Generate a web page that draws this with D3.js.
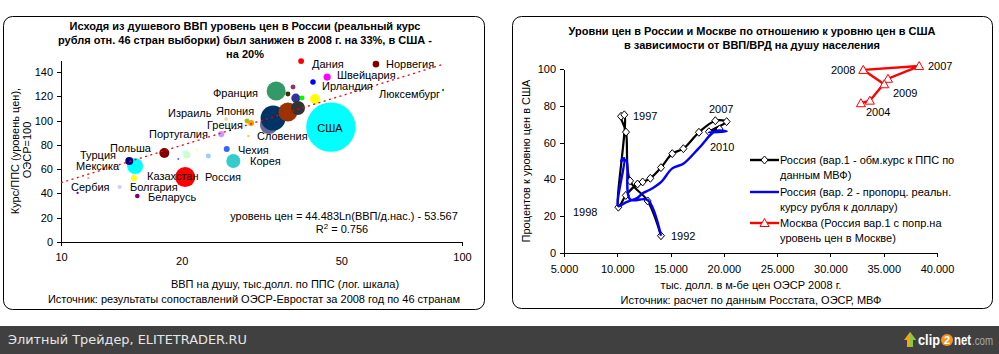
<!DOCTYPE html>
<html lang="ru">
<head>
<meta charset="UTF-8">
<title>Уровни цен</title>
<style>
  body { margin: 0; background: #fff; }
  text { font-family: "Liberation Sans", Arial, sans-serif; font-size: 11px; fill: #000; }
  .axis path, .axis line { stroke: #000; shape-rendering: crispEdges; }
  .axis text { font-family: "Liberation Sans", Arial, sans-serif; font-size: 11px; }
</style>
</head>
<body>
<svg id="cont" width="999" height="354"></svg>
<script src="https://cdn.jsdelivr.net/npm/d3@7"></script>
<script>
// ---- left chart: countries (GDP per capita PPP, price level OECD=100, GDP bn)
let countries = ["Италия","Япония","Франция","Германия","Бельгия","Канада","Австрия","Нидерланды","Исландия",
  "Австралия","Ирландия","Швейцария","Дания","Норвегия","Люксембург","Испания","Израиль","Словения","Греция",
  "Португалия","США","Корея","Чехия","Словакия","Эстония","Венгрия","Хорватия","Россия","Казахстан","Польша",
  "Мексика","Турция","Болгария","Беларусь","Сербия","Македония","Албания"];
let gdpPerCap = [33.0,33.8,34.4,36.8,38.5,39.0,36.8,39.9,37.9,
  43.0,42.5,46.1,39.7,61.0,89.7,29.1,29.8,29.3,25.8,
  25.1,47.1,26.9,25.9,23.3,21.8,20.4,20.6,20.4,19.6,18.1,
  15.3,14.8,15.2,15.5,14.0,11.7,11.0];
let priceLevel = [96.4,102.1,124.4,107.1,118.6,110.4,121.9,118.6,127.7,
  117.8,131.8,135.9,149.1,146.6,125.2,99.7,98.0,87.3,101.3,
  89.0,94.7,66.7,76.6,70.8,75.8,73.3,71.7,53.5,68.4,73.3,
  62.6,66.7,52.7,37.9,45.3,52.7,40.4];
let gdpTotal = [1900,3660,2120,2120,475,1150,145,145,145,
  585,175,300,200,250,30,145,210,30,75,
  230,14300,1150,210,145,20,210,290,2350,8,585,
  1500,375,210,125,95,30,30];
let bubbleColors = ["#666699","#003366","#339966","#993300","#333399","#333333","#333300","#00ff00","#993366",
  "#ffff00","#0000ff","#ff00ff","#ff0000","#800000","#008000","#99cc00","#ff9900","#ffcc00","#ffcc99",
  "#cc99ff","#00ffff","#33cccc","#3366ff","#99ccff","#ffff99","#ccffff","#ccffcc","#ff0000","#0000ff","#800000",
  "#00ffff","#000080","#ffff00","#800080","#ccccff","#ff9999","#800080"];
let yTicksL = [0,20,40,60,80,100,120,140];
let xTicksL = [10,20,50,100];
let trend = { a: 44.483, b: -53.567, r2: 0.756, from: 10, to: 90 };

// label placement (pixels: start x, baseline y)
let countryLabels = [
  ["Дания",312,68],["Норвегия",386,68],["Швейцария",337,79],["Ирландия",322,90],["Люксембург",379,98],
  ["Франция",213,97],["Япония",216,115],["Израиль",168,117],["Греция",207,129],["Португалия",149,138],
  ["Словения",257,140],["Польша",110,152],["Турция",80,159],["Чехия",238,154],["Корея",250,165],
  ["Мексика",76,170],["Казахстан",147,180],["Россия",205,181],["Сербия",71,191],["Болгария",130,191],
  ["Беларусь",148,201]
];

// ---- right chart: Russia 1992-2010, Moscow 2004-2009
let years = [1992,1993,1994,1995,1996,1997,1998,1999,2000,2001,2002,2003,2004,2005,2006,2007,2008,2009,2010];
let rusGdp = [14.1,12.85,11.2,10.82,10.35,10.66,10.1,10.8,11.9,12.38,13.1,14.1,15.16,16.2,17.66,19.2,20.26,18.6,19.6];
let rusPrice1 = [9.4,28.3,39.2,65.7,74.3,75.1,24.9,31.3,37.5,38.6,40.6,46.4,54.0,56.7,65.6,71.9,71.4,65.9,67.4];
let rusPrice2 = [9.4,28.8,29.2,50.5,50.0,51.5,25.5,27.5,30.0,32.5,34.5,38.5,46.0,48.5,57.0,66.2,66.0,65.5,66.0];
let mosYears = [2004,2005,2006,2007,2008,2009];
let mosGdp = [32.86,33.7,35.4,38.33,33.08,35.05];
let mosPrice = [81.4,82.8,94.7,101.6,99.5,91.7];
let yTicksR = [0,20,40,60,80,100];
let xTicksR = [5,10,15,20,25,30,35,40];
let seriesNames = [
  ["Россия (вар.1 - обм.курс к ППС по","данным МВФ)"],
  ["Россия (вар. 2 - пропорц. реальн.","курсу рубля к доллару)"],
  ["Москва (Россия вар.1 с попр.на","уровень цен в Москве)"]
];
let yearLabels = [["1997",633,120],["2007",709,113],["2010",710,151],["1998",573,216],["1992",671,240],
  ["2008",831,74],["2007",928,70],["2009",893,97],["2004",866,116]];

let svg = d3.select("#cont");

// frames
function frame(x, y, w, h) {
  svg.append("rect").attr("x", x).attr("y", y).attr("width", w).attr("height", h)
    .attr("rx", 9).attr("ry", 9).attr("fill", "#fff").attr("stroke", "#000").attr("stroke-width", 1);
}
frame(3.5, 16.5, 481, 293);
frame(512.5, 16.5, 480, 292);

function textLines(lines, x, y0, step, opts) {
  lines.forEach((t, i) => {
    let el = svg.append("text").attr("x", x).attr("y", y0 + i * step).attr("text-anchor", "middle").text(t);
    if (opts && opts.bold) el.style("font-weight", "bold");
  });
}

// ================= LEFT CHART =================
let xL = d3.scaleLog().domain([10, 100]).range([61, 462]);
let yL = d3.scaleLinear().domain([0, 150]).range([242, 60]);
let rL = d3.scaleSqrt().domain([0, 14300]).range([0, 24.7]);

textLines(["Исходя из душевого ВВП уровень цен в России (реальный курс",
  "рубля отн. 46 стран выборки) был занижен в 2008 г. на 33%, в США -",
  "на 20%"], 245, 30, 14, { bold: true });

let yAxisL = d3.axisLeft(yL).tickValues(yTicksL).tickSize(4).tickSizeOuter(0).tickPadding(4);
svg.append("g").attr("class", "axis").attr("transform", "translate(61,0)").call(yAxisL);

let xAxisL = d3.axisBottom(xL).tickValues(xTicksL).tickFormat(d3.format("d")).tickSize(4).tickSizeOuter(0).tickPadding(7);
let gx = svg.append("g").attr("class", "axis").attr("transform", "translate(0,242)").call(xAxisL);
gx.selectAll(".tick").filter(d => d !== 10 && d !== 100).each(function () {
  d3.select(this).select("line").remove();
  d3.select(this).select("text").attr("y", 15);
});
svg.selectAll(".axis .domain").attr("stroke", "#000");

// bubbles
let bubbleData = countries.map((c, i) => ({ c, x: gdpPerCap[i], y: priceLevel[i], s: gdpTotal[i], col: bubbleColors[i] }));
svg.append("g").selectAll("circle").data(bubbleData).join("circle")
  .attr("cx", d => xL(d.x)).attr("cy", d => yL(d.y))
  .attr("r", d => Math.max(0.8, rL(d.s)))
  .attr("fill", d => d.col);

// trendline
let tx = d3.range(0, 101).map(i => trend.from * Math.pow(trend.to / trend.from, i / 100));
svg.append("path")
  .attr("d", d3.line().x(d => xL(d)).y(d => yL(trend.a * Math.log(d) + trend.b))(tx))
  .attr("fill", "none").attr("stroke", "#ff0000").attr("stroke-width", 1.3).attr("stroke-dasharray", "2,3.5");

// labels
svg.append("g").selectAll("text").data(countryLabels).join("text")
  .attr("x", d => d[1]).attr("y", d => d[2]).text(d => d[0]);
let usa = bubbleData.find(d => d.c === "США");
svg.append("text").attr("x", xL(usa.x) - 1).attr("y", yL(usa.y) + 5).attr("text-anchor", "middle").text("США");

svg.append("text").attr("x", 344).attr("y", 220).attr("text-anchor", "middle")
  .text("уровень цен = " + trend.a + "Ln(ВВП/д.нас.) - " + (-trend.b));
let r2 = svg.append("text").attr("x", 342).attr("y", 233).attr("text-anchor", "middle");
r2.append("tspan").text("R");
r2.append("tspan").attr("dy", -4).style("font-size", "8px").text("2");
r2.append("tspan").attr("dy", 4).text(" = " + trend.r2);

svg.append("text").attr("transform", "translate(19,151) rotate(-90)").attr("text-anchor", "middle").text("Курс/ППС (уровень цен),");
svg.append("text").attr("transform", "translate(31,150) rotate(-90)").attr("text-anchor", "middle").text("ОЭСР=100");
svg.append("text").attr("x", 285).attr("y", 288).attr("text-anchor", "middle").text("ВВП на душу, тыс.долл. по ППС (лог. шкала)");
svg.append("text").attr("x", 254).attr("y", 303).attr("text-anchor", "middle").text("Источник: результаты сопоставлений ОЭСР-Евростат за 2008 год по 46 странам");

// ================= RIGHT CHART =================
let xR = d3.scaleLinear().domain([5, 40]).range([564, 937]);
let yR = d3.scaleLinear().domain([0, 100]).range([253, 69]);

textLines(["Уровни цен в России и Москве по отношению к уровню цен в США",
  "в зависимости от ВВП/ВРД на душу населения"], 752, 35, 14, { bold: true });

svg.append("g").attr("class", "axis").attr("transform", "translate(564,0)")
  .call(d3.axisLeft(yR).tickValues(yTicksR).tickSize(4).tickSizeOuter(0).tickPadding(4));
svg.append("g").attr("class", "axis").attr("transform", "translate(0,253)")
  .call(d3.axisBottom(xR).tickValues(xTicksR).tickFormat(d3.format(".3f")).tickSize(4).tickSizeOuter(0).tickPadding(8));

let smooth = d3.line().x(d => xR(d[0])).y(d => yR(d[1])).curve(d3.curveCatmullRom.alpha(0.5));
let straight = d3.line().x(d => xR(d[0])).y(d => yR(d[1]));
let diamond = "M0,-4L3.5,0L0,4L-3.5,0Z";
let triangle = "M0,-4.5L4.5,3.5L-4.5,3.5Z";

let s1 = rusGdp.map((g, i) => [g, rusPrice1[i]]);
let s2 = rusGdp.map((g, i) => [g, rusPrice2[i]]);
let s3 = mosGdp.map((g, i) => [g, mosPrice[i]]);

svg.append("path").attr("d", smooth(s1)).attr("fill", "none").attr("stroke", "#000").attr("stroke-width", 2.2);
svg.append("g").selectAll("path").data(s1).join("path")
  .attr("transform", d => `translate(${xR(d[0])},${yR(d[1])})`).attr("d", diamond)
  .attr("fill", "#fff").attr("stroke", "#000").attr("stroke-width", 1);
svg.append("path").attr("d", smooth(s2)).attr("fill", "none").attr("stroke", "#0000ff").attr("stroke-width", 2.4);
svg.append("path").attr("d", straight(s3)).attr("fill", "none").attr("stroke", "#ff0000").attr("stroke-width", 2.4);
svg.append("g").selectAll("path").data(s3).join("path")
  .attr("transform", d => `translate(${xR(d[0])},${yR(d[1])})`).attr("d", triangle)
  .attr("fill", "#fff").attr("stroke", "#ff0000").attr("stroke-width", 1);

svg.append("g").selectAll("text").data(yearLabels).join("text")
  .attr("x", d => d[1]).attr("y", d => d[2]).text(d => d[0]);

// legend
let legColors = ["#000", "#0000ff", "#ff0000"];
let legY = [160, 192, 223];
seriesNames.forEach((lines, i) => {
  let g = svg.append("g").attr("transform", `translate(750,${legY[i]})`);
  g.append("line").attr("x1", 0).attr("x2", 29).attr("stroke", legColors[i]).attr("stroke-width", 2.4);
  if (i === 0) g.append("path").attr("d", diamond).attr("transform", "translate(14.5,0)").attr("fill", "#fff").attr("stroke", "#000");
  if (i === 2) g.append("path").attr("d", triangle).attr("transform", "translate(14.5,0)").attr("fill", "#fff").attr("stroke", "#ff0000");
  lines.forEach((t, j) => g.append("text").attr("x", 30).attr("y", 4 + j * 15).text(t));
});

svg.append("text").attr("transform", "translate(530,161) rotate(-90)").attr("text-anchor", "middle").text("Процентов к уровню цен в США");
svg.append("text").attr("x", 751).attr("y", 289).attr("text-anchor", "middle").text("тыс. долл. в м-бе цен ОЭСР 2008 г.");
svg.append("text").attr("x", 751).attr("y", 304).attr("text-anchor", "middle").text("Источник: расчет по данным Росстата, ОЭСР, МВФ");

// ================= bottom bar =================
svg.append("rect").attr("x", 0).attr("y", 326).attr("width", 999).attr("height", 28).attr("fill", "#404040");
svg.append("text").attr("x", 8).attr("y", 344).style("font-family", "'DejaVu Sans', Tahoma, sans-serif")
  .style("font-size", "12px").style("fill", "#e6e6e6").attr("textLength", 239).attr("lengthAdjust", "spacingAndGlyphs")
  .text("Элитный Трейдер, ELITETRADER.RU");
let logo = svg.append("g").attr("transform", "translate(906,332)");
logo.append("path").attr("d", "M1,15 L1,8 L-2,8 L4,0 L10,8 L7,8 L7,15Z").attr("fill", "#f7a21b");
logo.append("path").attr("d", "M4,0 L10,8 L7,8 L7,15 L4,15Z").attr("fill", "#8cc63f");
logo.append("text").attr("x", 12).attr("y", 13).style("font-size", "14px").style("font-weight", "bold").style("fill", "#fff")
  .attr("textLength", 22).attr("lengthAdjust", "spacingAndGlyphs").text("clip");
logo.append("circle").attr("cx", 41).attr("cy", 8).attr("r", 6).attr("fill", "#f7941d");
logo.append("text").attr("x", 41).attr("y", 12).attr("text-anchor", "middle").style("font-size", "11px").style("font-weight", "bold").style("fill", "#fff").text("2");
logo.append("text").attr("x", 48).attr("y", 13).style("font-size", "14px").style("font-weight", "bold").style("fill", "#fff")
  .attr("textLength", 17).attr("lengthAdjust", "spacingAndGlyphs").text("net");
logo.append("text").attr("x", 66).attr("y", 13).style("font-size", "13px").style("fill", "#aaa")
  .attr("textLength", 21).attr("lengthAdjust", "spacingAndGlyphs").text(".com");
</script>
</body>
</html>
